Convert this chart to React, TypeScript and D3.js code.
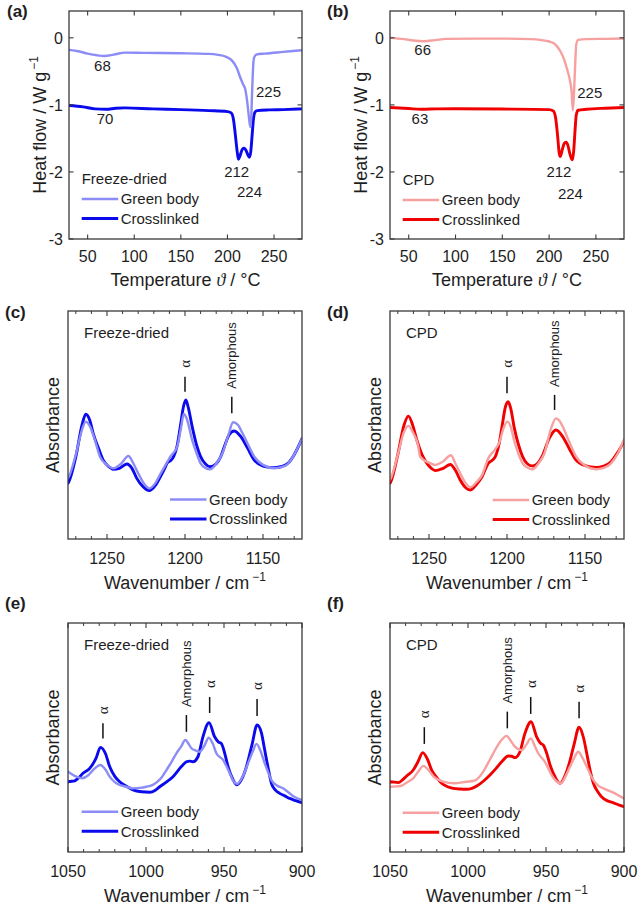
import React from 'react';
import * as d3 from 'd3';

type Pt = [number, number];

const SANS = "'Liberation Sans', Arial, Helvetica, sans-serif";
const SERIF = "'Liberation Serif', 'Times New Roman', serif";
const TXT = '#1e1e1e';
const AX = '#3a3a3a';

const C_BLUE_LIGHT = '#8c8cf7';
const C_BLUE = '#0a0aec';
const C_RED_LIGHT = '#f7a0a0';
const C_RED = '#f00000';

// ---------- tick values ----------
const dscXTicks = [50, 100, 150, 200, 250];
const dscYTicks = [-3, -2, -1, 0];
const irMidXTicks = [1250, 1200, 1150];
const irLowXTicks = [1050, 1000, 950, 900];

// ---------- DSC (a) Freeze-dried ----------
const dscA_green: Pt[] = [[30,-0.18],[40,-0.2],[50,-0.235],[60,-0.26],[68,-0.27],[78,-0.25],[90,-0.22],[110,-0.225],[150,-0.23],[180,-0.24],[190,-0.255],[198,-0.28],[205,-0.34],[210,-0.45],[214,-0.6],[217,-0.7],[219,-0.76],[221,-0.93],[223,-1.18],[224.5,-1.33],[225.5,-1.2],[226.5,-0.8],[227.5,-0.45],[228.5,-0.3],[231,-0.25],[240,-0.235],[260,-0.21],[280,-0.185]];
const dscA_cross: Pt[] = [[30,-1.01],[45,-1.03],[58,-1.06],[70,-1.065],[80,-1.05],[90,-1.045],[120,-1.06],[150,-1.07],[180,-1.085],[200,-1.1],[204,-1.12],[206.5,-1.22],[208.5,-1.45],[210.5,-1.7],[211.8,-1.81],[213.5,-1.76],[216,-1.66],[218,-1.645],[220,-1.68],[222,-1.75],[223.5,-1.78],[225,-1.7],[226.5,-1.45],[228,-1.2],[229.5,-1.11],[232,-1.085],[245,-1.075],[260,-1.07],[280,-1.06]];
const dscA_labels: [number, number, string, string][] = [[65.9,-0.41,'68','middle'],[68.6,-1.2,'70','middle'],[230.6,-0.8,'225','start'],[209.9,-2.0,'212','middle'],[223.7,-2.29,'224','middle']];

// ---------- DSC (b) CPD ----------
const dscB_green: Pt[] = [[30,0],[45,-0.02],[55,-0.04],[66,-0.05],[78,-0.035],[90,-0.015],[120,-0.012],[150,-0.012],[180,-0.02],[192,-0.035],[200,-0.055],[205,-0.08],[208,-0.12],[212,-0.2],[216,-0.32],[219,-0.46],[222,-0.62],[224,-0.8],[225.3,-1.08],[226.5,-0.85],[227.7,-0.44],[229,-0.1],[231,-0.03],[240,-0.02],[260,-0.015],[280,-0.01]];
const dscB_cross: Pt[] = [[30,-1.04],[50,-1.055],[63,-1.065],[80,-1.06],[100,-1.058],[150,-1.062],[200,-1.07],[204.5,-1.09],[207,-1.2],[209,-1.45],[210.8,-1.72],[212,-1.77],[213.8,-1.68],[216,-1.58],[218,-1.555],[220,-1.6],[222,-1.72],[223.8,-1.8],[225,-1.82],[226.3,-1.68],[227.7,-1.38],[229,-1.15],[231,-1.08],[240,-1.065],[260,-1.05],[280,-1.04]];
const dscB_labels: [number, number, string, string][] = [[64.9,-0.18,'66','middle'],[62,-1.2,'63','middle'],[230.1,-0.81,'225','start'],[210.5,-2.0,'212','middle'],[222.8,-2.32,'224','middle']];

// ---------- FTIR (c) Freeze-dried, 1275-1125 ----------
const irC_cross: Pt[] = [[1275,0.245],[1274.5,0.251],[1270,0.36],[1266,0.5],[1263.6,0.547],[1261,0.52],[1258.9,0.464],[1255,0.39],[1252.4,0.346],[1249,0.318],[1246,0.306],[1242,0.31],[1237.3,0.329],[1234,0.31],[1230.9,0.266],[1227,0.23],[1222.9,0.212],[1219,0.235],[1215.8,0.273],[1213,0.31],[1211.5,0.332],[1209,0.345],[1207.3,0.361],[1205,0.41],[1203,0.493],[1201,0.58],[1199.5,0.61],[1198,0.58],[1195.4,0.493],[1192.5,0.41],[1190,0.361],[1187,0.33],[1184,0.317],[1180,0.33],[1177.1,0.361],[1174,0.42],[1171.8,0.456],[1168.5,0.474],[1164.2,0.449],[1160,0.4],[1155.6,0.346],[1150,0.32],[1142.7,0.313],[1138,0.318],[1134,0.332],[1130,0.37],[1125,0.44]];
const irC_green: Pt[] = [[1275,0.268],[1274.5,0.273],[1270,0.37],[1266,0.48],[1263.6,0.515],[1261,0.495],[1258,0.44],[1254.5,0.361],[1250,0.325],[1246,0.31],[1241,0.33],[1236.3,0.364],[1233,0.33],[1230,0.288],[1226,0.24],[1222.9,0.222],[1219,0.245],[1215.8,0.285],[1212,0.33],[1209.4,0.361],[1205,0.405],[1202.5,0.49],[1200.8,0.548],[1199,0.53],[1195.4,0.434],[1192.5,0.375],[1190,0.332],[1187,0.312],[1183.9,0.306],[1180,0.33],[1176,0.376],[1172,0.46],[1169.2,0.512],[1166,0.5],[1164.2,0.478],[1160,0.42],[1155.6,0.361],[1150,0.325],[1142.7,0.31],[1138,0.316],[1134,0.33],[1130,0.37],[1125,0.44]];
const irC_marks: [number, number, number, string][] = [[1200,0.712,0.646,'α'],[1170,0.624,0.551,'Amorphous']];

// ---------- FTIR (d) CPD, 1275-1125 ----------
const irD_cross: Pt[] = [[1275,0.245],[1274.5,0.251],[1270,0.37],[1266,0.5],[1263.2,0.539],[1260.5,0.5],[1257.8,0.434],[1254.5,0.37],[1251.3,0.332],[1248.5,0.31],[1246,0.3],[1241,0.31],[1236.3,0.327],[1233,0.3],[1230,0.259],[1226.5,0.225],[1223.4,0.215],[1219.5,0.24],[1216,0.273],[1212,0.332],[1209.5,0.345],[1207.5,0.361],[1205,0.42],[1203.2,0.493],[1201,0.58],[1199.3,0.602],[1197.5,0.57],[1195.5,0.493],[1192.5,0.41],[1190,0.361],[1187,0.33],[1183.6,0.32],[1180,0.335],[1177.1,0.368],[1173,0.44],[1168.6,0.478],[1164.3,0.449],[1160,0.395],[1155.7,0.346],[1150,0.322],[1143,0.314],[1138,0.32],[1133.3,0.339],[1129,0.38],[1125,0.427]];
const irD_green: Pt[] = [[1275,0.26],[1274.5,0.266],[1270,0.37],[1266,0.47],[1263.2,0.496],[1260.5,0.47],[1257,0.41],[1255.7,0.361],[1250,0.335],[1246,0.325],[1241,0.34],[1236,0.367],[1233,0.33],[1230,0.288],[1226.5,0.245],[1223.4,0.227],[1219.5,0.25],[1216,0.28],[1212,0.354],[1208,0.39],[1205.1,0.42],[1202,0.49],[1199.8,0.515],[1197.5,0.49],[1195.5,0.434],[1192.5,0.37],[1190,0.332],[1186.5,0.312],[1183.6,0.306],[1180,0.33],[1176,0.376],[1172,0.48],[1168.6,0.529],[1166,0.515],[1164.3,0.493],[1160,0.425],[1155.7,0.361],[1150,0.322],[1143,0.306],[1138,0.312],[1133.3,0.332],[1129,0.375],[1125,0.437]];
const irD_marks: [number, number, number, string][] = [[1200,0.712,0.639,'α'],[1169.5,0.632,0.566,'Amorphous']];

// ---------- FTIR (e) Freeze-dried, 1050-900 ----------
const irE_cross: Pt[] = [[1050,0.305],[1049.5,0.307],[1045.7,0.311],[1043,0.325],[1040.4,0.344],[1036.1,0.365],[1032,0.41],[1029.2,0.457],[1026,0.43],[1023.3,0.373],[1020,0.33],[1016.9,0.307],[1012,0.285],[1008.3,0.271],[1003,0.263],[997.6,0.261],[994,0.27],[991.2,0.285],[987,0.305],[982.7,0.329],[977.3,0.373],[974.1,0.394],[972,0.397],[969.9,0.394],[966.7,0.416],[963.5,0.503],[959.6,0.565],[956,0.503],[953.5,0.48],[951.7,0.474],[949.5,0.43],[947.4,0.373],[944.5,0.32],[941.7,0.293],[938.5,0.32],[935.6,0.373],[932,0.47],[928.8,0.555],[926,0.52],[923.9,0.445],[921.5,0.36],[919.6,0.3],[917,0.27],[914.3,0.256],[911,0.245],[907.9,0.234],[904,0.224],[900,0.215]];
const irE_green: Pt[] = [[1050,0.35],[1049.5,0.348],[1044.6,0.329],[1041,0.322],[1037,0.335],[1034,0.358],[1029.2,0.38],[1026,0.36],[1023.3,0.329],[1020,0.305],[1016.9,0.293],[1012,0.284],[1008.3,0.278],[1004,0.28],[999.8,0.285],[996,0.292],[993.4,0.303],[990,0.325],[986.9,0.358],[983.5,0.395],[980.5,0.431],[977.5,0.46],[974.8,0.489],[972.5,0.47],[970.9,0.453],[968,0.443],[965.6,0.438],[962.5,0.465],[959.8,0.499],[957,0.47],[954.9,0.431],[950.6,0.402],[946.3,0.344],[944,0.31],[941.7,0.297],[938,0.33],[934.6,0.387],[931.5,0.44],[929.2,0.472],[926.5,0.44],[923.9,0.387],[921.5,0.345],[919.6,0.314],[916,0.29],[912.2,0.278],[909,0.262],[905.8,0.245],[900,0.227]];
const irE_marks: [number, number, number, string][] = [[1027.6,0.562,0.496,'α'],[974.1,0.598,0.525,'Amorphous'],[959.2,0.677,0.607,'α'],[928.8,0.668,0.594,'α']];

// ---------- FTIR (f) CPD, 1050-900 ----------
const irF_cross: Pt[] = [[1050,0.305],[1049.6,0.307],[1044.7,0.303],[1042,0.315],[1039.3,0.332],[1035.1,0.358],[1032,0.395],[1029,0.434],[1026,0.405],[1023.3,0.358],[1020,0.325],[1016.9,0.3],[1013,0.285],[1009.4,0.278],[1005,0.275],[1000.9,0.274],[997.5,0.278],[994.4,0.288],[990,0.31],[985.9,0.336],[982,0.365],[978.4,0.394],[974.1,0.419],[972,0.418],[969.9,0.412],[966.7,0.438],[963.5,0.518],[959.6,0.569],[956,0.503],[953.5,0.475],[951.7,0.467],[949.5,0.43],[947.4,0.38],[944,0.325],[941,0.3],[938,0.33],[935.1,0.387],[932,0.47],[928.8,0.545],[926,0.5],[923.9,0.431],[921.5,0.35],[919.6,0.3],[916.5,0.26],[913.3,0.234],[910,0.222],[906.8,0.215],[903,0.205],[900,0.198]];
const irF_green: Pt[] = [[1050,0.283],[1049.6,0.285],[1043,0.288],[1039,0.305],[1035,0.322],[1032,0.35],[1028.5,0.376],[1025,0.355],[1022,0.329],[1016,0.307],[1009,0.3],[1001,0.307],[996,0.311],[990.2,0.351],[987,0.39],[983.8,0.431],[979,0.485],[975.2,0.507],[972.5,0.485],[969.9,0.46],[965.6,0.445],[962.5,0.47],[959.8,0.496],[957,0.46],[955,0.431],[950.7,0.394],[946.4,0.336],[943.5,0.31],[940.6,0.3],[937.5,0.33],[934.6,0.373],[932,0.41],[929.3,0.438],[926.5,0.41],[923.9,0.373],[919.6,0.314],[916.5,0.29],[913.3,0.278],[910,0.268],[906.8,0.259],[903,0.245],[900,0.234]];
const irF_marks: [number, number, number, string][] = [[1028,0.545,0.472,'α'],[974.8,0.613,0.54,'Amorphous'],[959.8,0.677,0.603,'α'],[928.8,0.656,0.584,'α']];

const legendNames = ['Green body', 'Crosslinked'];

interface Series { data: Pt[]; color: string; width: number; }
interface PanelProps {
  id: string;
  label: string;
  labelPos: [number, number];
  box: { left: number; top: number; width: number; height: number };
  xDomain: [number, number];
  yDomain: [number, number];
  xMajor: number[];
  xMinorStep?: number;
  yMajor?: number[];
  series: Series[]; // [green, cross]
  numLabels?: [number, number, string, string][];
  marks?: [number, number, number, string][];
  header: string;
  headerInLegend: boolean;
  legendX: number;
  legendY: number;
  kind: 'dsc' | 'ir';
}

function Panel(p: PanelProps) {
  const { left, top, width, height } = p.box;
  const right = left + width;
  const bottom = top + height;
  const x = d3.scaleLinear().domain(p.xDomain).range([left, right]);
  const y = d3.scaleLinear().domain(p.yDomain).range([bottom, top]);
  const line = d3.line<Pt>().x(d => x(d[0])).y(d => y(d[1])).curve(d3.curveMonotoneX);
  const clipId = `clip-${p.id}`;
  const majLen = p.kind === 'dsc' ? 4.5 : 5;
  const minLen = 3;
  const lo = Math.min(...p.xDomain), hi = Math.max(...p.xDomain);
  const minor = p.xMinorStep
    ? d3.range(Math.ceil(lo / p.xMinorStep) * p.xMinorStep, hi + 0.001, p.xMinorStep).filter(v => !p.xMajor.includes(v) && v > lo && v < hi)
    : [];
  const lx = left + p.legendX;
  const ly = top + p.legendY;
  const lineLen = 36.5;
  const gapY = 19.5;
  const drawOrder = [p.series[1], p.series[0]];

  return (
    <g>
      <defs>
        <clipPath id={clipId}>
          <rect x={left} y={top} width={width} height={height} />
        </clipPath>
      </defs>
      <text x={p.labelPos[0]} y={p.labelPos[1]} fontFamily={SANS} fontWeight="bold" fontSize={17} fill={TXT}>{p.label}</text>
      <g clipPath={`url(#${clipId})`}>
        {drawOrder.map((s, i) => (
          <path key={i} d={line(s.data) || ''} fill="none" stroke={s.color} strokeWidth={s.width} strokeLinejoin="round" strokeLinecap="round" />
        ))}
      </g>
      <rect x={left} y={top} width={width} height={height} fill="none" stroke={AX} strokeWidth={1.3} />
      {p.xMajor.map(v => (
        <g key={`xm${v}`}>
          <line x1={x(v)} x2={x(v)} y1={bottom} y2={bottom - majLen} stroke={AX} strokeWidth={1.1} />
          <line x1={x(v)} x2={x(v)} y1={top} y2={top + majLen} stroke={AX} strokeWidth={1.1} />
          <text x={x(v)} y={bottom + (p.kind === 'dsc' ? 23 : 25)} textAnchor="middle" fontFamily={SANS} fontSize={16} fill={TXT}>{v}</text>
        </g>
      ))}
      {minor.map(v => (
        <g key={`xn${v}`}>
          <line x1={x(v)} x2={x(v)} y1={bottom} y2={bottom - minLen} stroke={AX} strokeWidth={1} />
          <line x1={x(v)} x2={x(v)} y1={top} y2={top + minLen} stroke={AX} strokeWidth={1} />
        </g>
      ))}
      {(p.yMajor || []).map(v => (
        <g key={`ym${v}`}>
          <line x1={left} x2={left + majLen} y1={y(v)} y2={y(v)} stroke={AX} strokeWidth={1.1} />
          <line x1={right} x2={right - majLen} y1={y(v)} y2={y(v)} stroke={AX} strokeWidth={1.1} />
          <text x={left - 6} y={y(v)} dy="0.36em" textAnchor="end" fontFamily={SANS} fontSize={16} fill={TXT}>{v}</text>
        </g>
      ))}
      {p.kind === 'dsc' ? (
        <text x={(left + right) / 2} y={bottom + 47} textAnchor="middle" fontFamily={SANS} fontSize={18} fill={TXT}>
          Temperature <tspan fontFamily={SERIF} fontStyle="italic">ϑ</tspan> / °C
        </text>
      ) : (
        <text x={(left + right) / 2} y={bottom + 50} textAnchor="middle" fontFamily={SANS} fontSize={18} fill={TXT}>
          Wavenumber / cm<tspan dx={3} dy={-8} fontSize={12}>−1</tspan>
        </text>
      )}
      {p.kind === 'dsc' ? (
        <text transform={`translate(${left - 23},${(top + bottom) / 2}) rotate(-90)`} textAnchor="middle" fontFamily={SANS} fontSize={18} fill={TXT}>
          Heat flow / W g<tspan dx={2} dy={-8} fontSize={12}>−1</tspan>
        </text>
      ) : (
        <text transform={`translate(${left - 9},${(top + bottom) / 2}) rotate(-90)`} textAnchor="middle" fontFamily={SANS} fontSize={18} fill={TXT}>
          Absorbance
        </text>
      )}
      {(p.numLabels || []).map((l, i) => (
        <text key={`nl${i}`} x={x(l[0])} y={y(l[1])} dy="0.36em" textAnchor={l[3]} fontFamily={SANS} fontSize={15} fill={TXT}>{l[2]}</text>
      ))}
      {(p.marks || []).map((m, i) => {
        const mx = x(m[0]);
        const y0 = y(m[1]);
        const isAlpha = m[3] === 'α';
        return (
          <g key={`mk${i}`}>
            <line x1={mx} x2={mx} y1={y0} y2={y(m[2])} stroke="#111" strokeWidth={1.5} />
            <text transform={`translate(${mx},${y0 - (isAlpha ? 9 : 8)}) rotate(-90)`} textAnchor="start" dominantBaseline="central"
              fontFamily={isAlpha ? SERIF : SANS} fontSize={isAlpha ? 15 : 13} fill={TXT}>{m[3]}</text>
          </g>
        );
      })}
      {p.headerInLegend ? (
        <text x={lx} y={ly - 20} dy="0.36em" fontFamily={SANS} fontSize={15} fill={TXT}>{p.header}</text>
      ) : (
        <text x={left + 16} y={top + 21.5} dy="0.36em" fontFamily={SANS} fontSize={15} fill={TXT}>{p.header}</text>
      )}
      {p.series.map((s, i) => (
        <g key={`lg${i}`}>
          <line x1={lx} x2={lx + lineLen} y1={ly + i * gapY} y2={ly + i * gapY} stroke={s.color} strokeWidth={s.width} />
          <text x={lx + lineLen + 2.5} y={ly + i * gapY} dy="0.36em" fontFamily={SANS} fontSize={15} fill={TXT}>{legendNames[i]}</text>
        </g>
      ))}
    </g>
  );
}

export default function App() {
  const gw = 2.4, cw = 2.9;
  return (
    <svg width={639} height={907} viewBox="0 0 639 907" style={{ display: 'block', position: 'absolute', left: 0, top: 0, background: '#fff' }}>
      <rect x={0} y={0} width={639} height={907} fill="#fff" />
      <Panel id="a" label="(a)" labelPos={[7, 17]} kind="dsc" box={{ left: 69, top: 11, width: 233, height: 228 }} xDomain={[30, 280]} yDomain={[-3, 0.4]}
        xMajor={dscXTicks} yMajor={dscYTicks}
        series={[{ data: dscA_green, color: C_BLUE_LIGHT, width: gw }, { data: dscA_cross, color: C_BLUE, width: cw }]}
        numLabels={dscA_labels} header="Freeze-dried" headerInLegend legendX={12.7} legendY={188} />
      <Panel id="b" label="(b)" labelPos={[327, 17]} kind="dsc" box={{ left: 390, top: 11, width: 234, height: 228 }} xDomain={[30, 280]} yDomain={[-3, 0.4]}
        xMajor={dscXTicks} yMajor={dscYTicks}
        series={[{ data: dscB_green, color: C_RED_LIGHT, width: gw }, { data: dscB_cross, color: C_RED, width: cw }]}
        numLabels={dscB_labels} header="CPD" headerInLegend legendX={12.7} legendY={189} />
      <Panel id="c" label="(c)" labelPos={[5, 318]} kind="ir" box={{ left: 68, top: 311, width: 234, height: 228 }} xDomain={[1275, 1125]} yDomain={[0, 1]}
        xMajor={irMidXTicks} xMinorStep={10}
        series={[{ data: irC_green, color: C_BLUE_LIGHT, width: gw }, { data: irC_cross, color: C_BLUE, width: cw }]}
        marks={irC_marks} header="Freeze-dried" headerInLegend={false} legendX={102} legendY={188.5} />
      <Panel id="d" label="(d)" labelPos={[327, 318]} kind="ir" box={{ left: 390, top: 311, width: 234, height: 228 }} xDomain={[1275, 1125]} yDomain={[0, 1]}
        xMajor={irMidXTicks} xMinorStep={10}
        series={[{ data: irD_green, color: C_RED_LIGHT, width: gw }, { data: irD_cross, color: C_RED, width: cw }]}
        marks={irD_marks} header="CPD" headerInLegend={false} legendX={102.7} legendY={189} />
      <Panel id="e" label="(e)" labelPos={[5, 609]} kind="ir" box={{ left: 68, top: 623, width: 234, height: 229 }} xDomain={[1050, 900]} yDomain={[0, 1]}
        xMajor={irLowXTicks} xMinorStep={10}
        series={[{ data: irE_green, color: C_BLUE_LIGHT, width: gw }, { data: irE_cross, color: C_BLUE, width: cw }]}
        marks={irE_marks} header="Freeze-dried" headerInLegend={false} legendX={13.7} legendY={188.7} />
      <Panel id="f" label="(f)" labelPos={[327, 609]} kind="ir" box={{ left: 390, top: 623, width: 234, height: 229 }} xDomain={[1050, 900]} yDomain={[0, 1]}
        xMajor={irLowXTicks} xMinorStep={10}
        series={[{ data: irF_green, color: C_RED_LIGHT, width: gw }, { data: irF_cross, color: C_RED, width: cw }]}
        marks={irF_marks} header="CPD" headerInLegend={false} legendX={12.7} legendY={189.7} />
    </svg>
  );
}
